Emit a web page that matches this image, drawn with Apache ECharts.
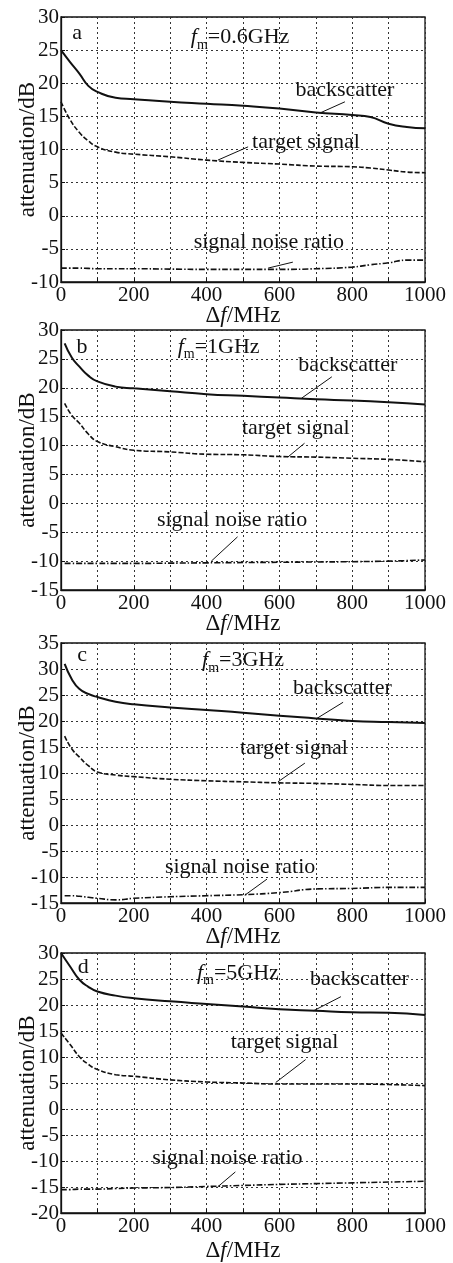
<!DOCTYPE html>
<html><head><meta charset="utf-8">
<script src="https://cdn.jsdelivr.net/npm/echarts@6/dist/echarts.min.js"></script>
<style>html,body{margin:0;padding:0;background:#fff}#c{width:453px;height:1263px}</style>
</head><body><div id="c"></div>
<script>
// ---- data (Δf in MHz, attenuation in dB) ----
const xA = [0,25,50,75,100,150,200,300,400,500,600,700,800,850,900,950,1000];
const backA = [25,23.2,21.5,19.6,18.7,17.8,17.6,17.2,16.9,16.6,16.2,15.6,15.2,14.9,13.9,13.4,13.2];
const targetA = [17.2,14.5,12.6,11.3,10.4,9.6,9.3,8.9,8.4,8.05,7.8,7.5,7.4,7.2,6.9,6.6,6.5];
const snrA = [-7.9,-7.9,-7.9,-7.95,-8,-8,-8,-8.05,-8.1,-8.1,-8.1,-8.0,-7.75,-7.4,-7.1,-6.7,-6.7];

const xB = [10,30,50,75,100,150,200,300,400,500,600,700,800,900,1000];
const backB = [27.7,25.2,23.7,22.1,21.1,20.2,19.9,19.4,18.9,18.6,18.3,18.0,17.8,17.5,17.1];
const targetB = [17.3,15.2,13.9,12.0,10.7,9.8,9.2,8.9,8.5,8.4,8.1,8.0,7.8,7.6,7.2];
const snrB = [-10.4,-10.4,-10.4,-10.4,-10.4,-10.4,-10.4,-10.35,-10.3,-10.25,-10.2,-10.15,-10.1,-10.0,-9.8];

const xC = [10,30,50,75,100,150,200,300,400,500,600,700,800,900,1000];
const backC = [31.0,28.0,26.2,25.2,24.6,23.7,23.2,22.6,22.1,21.6,21.0,20.5,20.0,19.8,19.6];
const targetC = [17.1,14.6,13.1,11.4,10.2,9.6,9.3,8.8,8.5,8.3,8.1,8.0,7.8,7.6,7.6];
const snrC = [-13.6,-13.6,-13.7,-13.9,-14.1,-14.4,-14.1,-13.8,-13.6,-13.4,-13.0,-12.3,-12.2,-12.0,-12.0];

const xD = [0,25,50,75,100,150,200,300,400,500,600,700,800,900,1000];
const backD = [30,27.4,24.9,23.5,22.6,21.8,21.3,20.7,20.2,19.7,19.2,18.9,18.6,18.5,18.1];
const targetD = [14.6,12.4,10.1,8.6,7.6,6.6,6.3,5.6,5.2,5.0,4.8,4.8,4.8,4.7,4.5];
const snrD = [-15.5,-15.5,-15.4,-15.4,-15.4,-15.3,-15.2,-15.1,-14.9,-14.7,-14.5,-14.35,-14.2,-14.05,-13.9];

const panelLetters = ['a','b','c','d'];
const fmValues = ['0.6GHz','1GHz','3GHz','5GHz'];
const yMins = [-10,-15,-15,-20];
const yMaxs = [30,30,35,30];
const seriesNames = ['backscatter','target signal','signal noise ratio'];

// annotation anchor points, in data coordinates [Δf, dB]
const annLetter = [[44,27.6],[58,27.1],[58,32.6],[61,27.2]];
const annFm = [[492,27.0],[433,27.1],[500,31.7],[486,26.2]];
const annBack = [[780,19.0],[788,23.9],[773,26.3],[820,24.9]];
const annBackArrow = [[[780,17.2],[711,15.5]],[[744,21.9],[661,18.2]],[[775,23.6],[703,20.5]],[[769,21.6],[694,18.9]]];
const annTarget = [[673,11.1],[645,13.0],[640,14.8],[614,12.9]];
const annTargetArrow = [[[514,10.4],[431,8.4]],[[669,10.4],[623,8.0]],[[670,11.9],[596,8.3]],[[672,9.5],[590,5.1]]];
const annSnr = [[571,-4.0],[470,-3.0],[492,-8.2],[457,-9.4]];
const annSnrArrow = [[[637,-7.0],[569,-7.9]],[[485,-5.8],[413,-10.0]],[[566,-10.4],[505,-13.5]],[[479,-12.1],[430,-15.0]]];

const xs = [xA,xB,xC,xD];
const backs = [backA,backB,backC,backD];
const targets = [targetA,targetB,targetC,targetD];
const snrs = [snrA,snrB,snrC,snrD];

// ---- layout ----
const FONT = 'Liberation Serif';
const INK = '#111';
const gridTops = [17,330,643,953];
const gridHeights = [265,260,260,260];
const pair = (x,y) => x.map((v,i)=>[v,y[i]]);

const grids = [], xAxes = [], yAxes = [], series = [];
const txt = (coord, formatter, size, rich) => ({
  coord, symbol:'circle', symbolSize:1, itemStyle:{color:'rgba(0,0,0,0)'},
  label:{show:true, position:'inside', formatter, color:INK, fontFamily:FONT, fontSize:size, rich}
});
const arrow = seg => [{coord:seg[0]},{coord:seg[1]}];

for (let p=0;p<4;p++){
  grids.push({left:61, width:364, top:gridTops[p], height:gridHeights[p], containLabel:false, outerBoundsMode:'none',
    show:true, borderColor:INK, borderWidth:1.3, backgroundColor:'#fff'});
  xAxes.push({
    type:'value', gridIndex:p, min:0, max:1000, interval:100,
    axisLine:{show:true, onZero:false, lineStyle:{color:INK, width:1.3}},
    axisTick:{show:true, inside:true, length:4, lineStyle:{color:INK}},
    splitLine:{show:true, lineStyle:{type:[2,3], color:'#333', width:1}},
    axisLabel:{color:INK, fontFamily:FONT, fontSize:21, margin:3,
      formatter: v => (v % 200 === 0 ? String(v) : '')},
    name:'{n|Δ}{i|f}{n|/MHz}', nameLocation:'middle', nameGap: p===3 ? 26 : 22, nameMoveOverlap:false,
    nameTextStyle:{color:INK, fontFamily:FONT, fontSize:23,
      rich:{n:{fontFamily:FONT,fontSize:23,color:INK}, i:{fontFamily:FONT,fontSize:23,fontStyle:'italic',color:INK}}}
  });
  yAxes.push({
    type:'value', gridIndex:p, min:yMins[p], max:yMaxs[p], interval:5,
    axisLine:{show:true, onZero:false, lineStyle:{color:INK, width:1.3}},
    axisTick:{show:true, inside:true, length:4, lineStyle:{color:INK}},
    splitLine:{show:true, lineStyle:{type:[2,3], color:'#333', width:1}},
    axisLabel:{color:INK, fontFamily:FONT, fontSize:21, margin:2},
    name:'attenuation/dB', nameLocation:'middle', nameRotate:90, nameGap:22, nameMoveOverlap:false,
    nameTextStyle:{color:INK, fontFamily:FONT, fontSize:23}
  });
  const fmRich = {
    i:{fontFamily:FONT,fontSize:22,fontStyle:'italic',color:INK},
    s:{fontFamily:FONT,fontSize:14,color:INK,padding:[16,0,0,0]},
    n:{fontFamily:FONT,fontSize:22,color:INK}
  };
  series.push({
    name:seriesNames[0], type:'line', xAxisIndex:p, yAxisIndex:p, data:pair(xs[p],backs[p]),
    smooth:true, showSymbol:false, lineStyle:{color:INK, width:2, type:'solid'},
    markPoint:{silent:true, animation:false, data:[
      txt(annLetter[p], panelLetters[p], 22),
      txt(annFm[p], '{i|f}{s|m}{n|=' + fmValues[p] + '}', 22, fmRich),
      txt(annBack[p], seriesNames[0], 22),
      txt(annTarget[p], seriesNames[1], 22),
      txt(annSnr[p], seriesNames[2], 22)
    ]},
    markLine:{silent:true, animation:false, symbol:['none','none'], label:{show:false},
      lineStyle:{color:INK, width:1, type:'solid'},
      data:[arrow(annBackArrow[p]), arrow(annTargetArrow[p]), arrow(annSnrArrow[p])]}
  });
  series.push({
    name:seriesNames[1], type:'line', xAxisIndex:p, yAxisIndex:p, data:pair(xs[p],targets[p]),
    smooth:true, showSymbol:false, lineStyle:{color:INK, width:1.6, type:[5,2]}
  });
  series.push({
    name:seriesNames[2], type:'line', xAxisIndex:p, yAxisIndex:p, data:pair(xs[p],snrs[p]),
    smooth:true, showSymbol:false, lineStyle:{color:INK, width:1.6, type:[6,2,1.5,2]}
  });
}

const chart = echarts.init(document.getElementById('c'), null, {renderer:'canvas'});
chart.setOption({animation:false, backgroundColor:'#fff', grid:grids, xAxis:xAxes, yAxis:yAxes, series});
</script></body></html>
